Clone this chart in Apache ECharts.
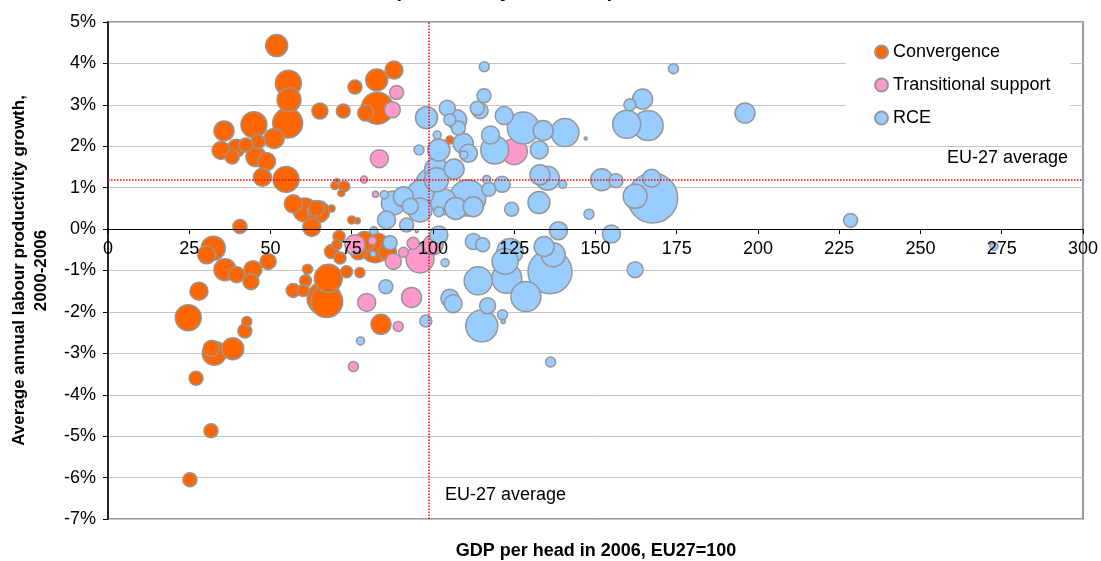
<!DOCTYPE html>
<html>
<head>
<meta charset="utf-8">
<script src="https://cdn.jsdelivr.net/npm/echarts@6/dist/echarts.min.js"></script>
<style>
html,body{margin:0;padding:0;background:#fff;}
#chart{width:1101px;height:561px;}
</style>
</head>
<body>
<div id="chart"></div>
<script>
// Data: [GDP per head 2006 (EU27=100), avg annual labour productivity growth 2000-2006 (%), bubble size]
const seriesNames = ['Convergence', 'Transitional support', 'RCE'];
const xTicks = [0, 25, 50, 75, 100, 125, 150, 175, 200, 225, 250, 275, 300];
const yTicks = [-7, -6, -5, -4, -3, -2, -1, 0, 1, 2, 3, 4, 5];
const euAverageX = 98.7;
const euAverageY = 1.2;

const convergence = [
  [51.9, 4.43, 11], [55.5, 3.52, 13], [55.7, 3.12, 12], [65.2, 2.85, 8], [72.4, 2.85, 7],
  [55.3, 2.56, 15], [44.9, 2.52, 13], [35.7, 2.37, 10], [51.1, 2.19, 10], [46.2, 2.11, 7],
  [42.4, 2.03, 7], [39.4, 1.95, 9], [34.8, 1.90, 9], [38.2, 1.74, 7], [45.5, 1.75, 10],
  [48.8, 1.63, 9], [47.5, 1.25, 9], [54.8, 1.20, 13], [70.4, 1.16, 2.5], [69.8, 1.05, 4],
  [72.7, 1.03, 5.5], [71.8, 0.87, 3.5], [57.0, 0.61, 9], [60.6, 0.46, 12], [64.1, 0.50, 8],
  [64.8, 0.42, 11], [68.8, 0.50, 3.5], [62.7, 0.04, 9], [40.6, 0.06, 7], [76.0, 3.43, 7],
  [82.7, 3.60, 11], [88.0, 3.84, 9], [82.9, 2.92, 16], [79.3, 2.80, 8], [75.0, 0.22, 4],
  [76.7, 0.20, 3], [105.2, 2.15, 4], [32.4, -0.46, 12], [30.4, -0.62, 9], [36.0, -0.98, 11],
  [39.6, -1.10, 8], [44.6, -0.98, 9], [44.0, -1.27, 8], [49.3, -0.78, 8], [28.0, -1.50, 9],
  [24.7, -2.14, 13], [42.7, -2.23, 5], [42.1, -2.46, 7], [31.8, -2.88, 8], [32.7, -3.00, 12],
  [38.4, -2.89, 11], [27.1, -3.60, 7], [31.7, -4.87, 7], [25.2, -6.05, 7], [61.4, -0.97, 5],
  [60.8, -1.25, 6], [57.0, -1.48, 7], [60.1, -1.48, 6], [67.8, -1.19, 14], [66.5, -1.67, 17],
  [67.3, -1.75, 16], [73.4, -1.03, 6], [77.5, -1.05, 5], [68.8, -0.54, 7], [70.4, -0.38, 5],
  [71.1, -0.18, 6], [71.4, -0.70, 6], [82.2, -0.45, 15], [79.0, -0.30, 10], [84.0, -2.30, 10],
  [86.0, -0.55, 9], [77.0, -0.55, 8]
];

const transitional = [
  [88.8, 3.30, 7], [87.5, 2.88, 8], [83.5, 1.70, 9], [78.8, 1.20, 3.5], [82.3, 0.84, 3],
  [76.0, -0.38, 10], [87.8, -0.78, 8], [79.6, -1.77, 9], [93.4, -1.65, 10], [89.3, -2.35, 5],
  [75.5, -3.32, 5], [96.0, -0.72, 14], [93.9, -0.34, 6], [90.9, -0.56, 5], [81.4, -0.28, 4],
  [100.0, -0.38, 10], [125.0, 1.87, 13], [92.5, 0.05, 1.5], [95.0, -0.05, 1.5]
];

const rce = [
  [115.8, 3.92, 5], [174.0, 3.87, 5], [115.7, 3.22, 7], [104.4, 2.92, 8], [113.6, 2.92, 7],
  [114.5, 2.86, 8], [98.0, 2.69, 11], [107.3, 2.64, 10], [105.2, 2.64, 6], [107.8, 2.44, 7],
  [121.9, 2.74, 9], [127.8, 2.44, 16], [133.9, 2.38, 10], [140.6, 2.33, 14], [147.0, 2.19, 1.5],
  [159.6, 2.53, 14], [166.2, 2.50, 15], [164.5, 3.14, 10], [160.6, 3.00, 6], [196.0, 2.80, 10],
  [101.3, 2.27, 4], [95.7, 1.91, 5], [101.8, 1.91, 11], [109.3, 2.07, 10], [110.9, 1.83, 9],
  [109.5, 1.79, 4], [117.7, 2.27, 9], [119.0, 1.91, 14], [132.7, 1.91, 9], [106.5, 1.45, 10],
  [101.1, 1.43, 12], [101.1, 1.19, 12], [99.1, 1.11, 14], [116.5, 1.20, 4], [121.3, 1.08, 8],
  [117.2, 0.96, 7], [132.9, 1.31, 10], [135.2, 1.23, 12], [139.9, 1.08, 4], [151.9, 1.19, 11],
  [156.3, 1.17, 7], [167.3, 1.23, 9], [167.6, 0.75, 25], [162.2, 0.79, 12], [132.6, 0.64, 11],
  [124.2, 0.48, 7], [148.0, 0.36, 5], [110.7, 0.75, 18], [107.0, 0.50, 11], [103.2, 0.66, 13],
  [112.4, 0.54, 10], [87.8, 0.63, 12], [90.9, 0.78, 10], [85.7, 0.22, 9], [91.9, 0.10, 7],
  [96.2, 0.87, 13], [96.0, 0.46, 12], [101.8, 0.42, 5], [85.0, 0.83, 4], [93.0, 0.55, 8],
  [81.8, -0.04, 4], [138.6, -0.04, 9], [154.9, -0.12, 9], [162.2, -0.98, 8], [112.4, -0.30, 8],
  [115.3, -0.38, 7], [123.7, -0.54, 13], [122.2, -0.78, 13], [122.7, -1.19, 15], [113.9, -1.25, 14],
  [128.6, -1.63, 15], [136.0, -1.03, 22], [134.2, -0.42, 10], [137.0, -0.62, 12], [105.2, -1.67, 9],
  [106.2, -1.80, 9], [116.8, -1.85, 8], [115.0, -2.34, 16], [121.4, -2.07, 5], [121.6, -2.23, 2],
  [136.2, -3.21, 5], [103.7, -0.81, 4], [97.8, -2.22, 6], [101.8, -0.14, 9], [86.8, -0.33, 7],
  [81.6, -0.60, 3], [85.5, -1.39, 7], [77.7, -2.70, 4], [228.5, 0.21, 7], [272.6, -0.42, 4]
];

const colors = ['#FF6600', '#FF99CC', '#99CCFF'];
const FONT = '"Liberation Sans", Arial, sans-serif';

function bigFirst(arr) { return arr.slice().sort((a, b) => b[2] - a[2]); }

function bubbleSeries(name, data, color, z) {
  return {
    name: name,
    type: 'scatter',
    data: bigFirst(data),
    symbol: 'circle',
    symbolSize: v => v[2] * 2,
    z: z,
    itemStyle: { color: color, borderColor: '#969696', borderWidth: 1.5, opacity: 1 },
    emphasis: { disabled: true },
    animation: false
  };
}

const chart = echarts.init(document.getElementById('chart'), null, { renderer: 'canvas' });

chart.setOption({
  backgroundColor: '#fff',
  animation: false,
  grid: { left: 108, right: 17, top: 22, bottom: 42, show: true, borderColor: '#999999', borderWidth: 2, backgroundColor: 'transparent' },
  xAxis: {
    type: 'value', position: 'bottom', min: xTicks[0], max: xTicks[xTicks.length - 1], interval: 25,
    offset: 0,
    axisLine: { show: true, onZero: false, lineStyle: { color: '#000', width: 1 } },
    axisTick: { show: true, length: 5, lineStyle: { color: '#000' } },
    axisLabel: { fontSize: 18, color: '#000', margin: 11, fontFamily: FONT },
    splitLine: { show: false },
    z: 5
  },
  yAxis: {
    type: 'value', min: yTicks[0], max: yTicks[yTicks.length - 1], interval: 1,
    axisLine: { show: true, onZero: false, lineStyle: { color: '#000', width: 1.5 } },
    axisTick: { show: true, length: 5, lineStyle: { color: '#000' } },
    axisLabel: { fontSize: 18, color: '#000', margin: 12, fontFamily: FONT, formatter: '{value}%' },
    splitLine: { show: true, lineStyle: { color: '#C4C4C4', width: 1 } },
    name: 'Average annual labour productivity growth,\n2000-2006',
    nameLocation: 'middle', nameRotate: 90, nameGap: 56,
    nameTextStyle: { fontSize: 17, fontWeight: 'bold', color: '#000', fontFamily: FONT, lineHeight: 22 }
  },
  legend: {
    orient: 'vertical', left: 846, top: 24,
    data: seriesNames,
    backgroundColor: '#fff',
    padding: [19, 20, 18, 28],
    itemWidth: 13, itemHeight: 13, itemGap: 15,
    icon: 'circle',
    textStyle: { fontSize: 18, color: '#000', fontFamily: FONT },
    selectedMode: false
  },
  series: [
    bubbleSeries(seriesNames[0], convergence, colors[0], 2),
    bubbleSeries(seriesNames[1], transitional, colors[1], 3),
    bubbleSeries(seriesNames[2], rce, colors[2], 4),
    {
      name: 'EU-27 average', type: 'scatter', data: [], z: 6, silent: true,
      markLine: {
        silent: true, symbol: 'none', animation: false,
        label: { show: false },
        lineStyle: { color: '#FF0000', type: 'dotted', width: 1.5 },
        data: [{ xAxis: euAverageX }, { yAxis: euAverageY }]
      }
    }
  ],
  graphic: [
    { type: 'text', x: 560, y: 1, z: 10,
      style: { text: 'Labour productivity and GDP per head, 2000-2006', font: 'bold 20px ' + FONT, fill: '#000', align: 'center', verticalAlign: 'bottom' } },
    { type: 'text', x: 596, y: 551, z: 10,
      style: { text: 'GDP per head in 2006, EU27=100', font: 'bold 18px ' + FONT, fill: '#000', align: 'center', verticalAlign: 'middle' } },
    { type: 'text', x: 1068, y: 158, z: 10,
      style: { text: 'EU-27 average', font: '18px ' + FONT, fill: '#000', align: 'right', verticalAlign: 'middle' } },
    { type: 'text', x: 445, y: 495, z: 10,
      style: { text: 'EU-27 average', font: '18px ' + FONT, fill: '#000', align: 'left', verticalAlign: 'middle' } }
  ]
});

// Place the x axis on the y=0 line, using the y axis scale
const zeroPx = chart.convertToPixel({ yAxisIndex: 0 }, 0);
const minPx = chart.convertToPixel({ yAxisIndex: 0 }, yTicks[0]);
chart.setOption({ xAxis: { offset: zeroPx - minPx } });
</script>
</body>
</html>
